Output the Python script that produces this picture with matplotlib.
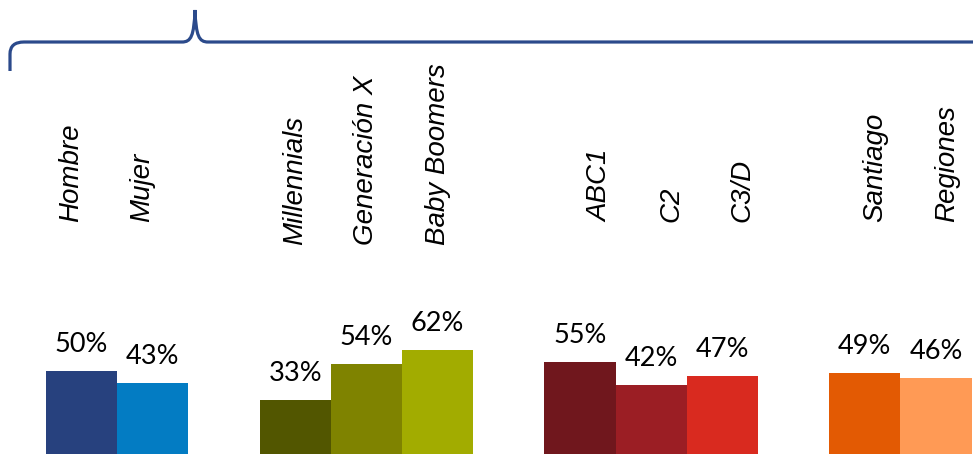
import matplotlib.pyplot as plt
from matplotlib.path import Path
from matplotlib.patches import PathPatch
from matplotlib.transforms import blended_transform_factory

# data
categories = ["Hombre", "Mujer", "Millennials", "Generación X", "Baby Boomers",
              "ABC1", "C2", "C3/D", "Santiago", "Regiones"]
values = [50, 43, 33, 54, 62, 55, 42, 47, 49, 46]
groups = [0, 0, 1, 1, 1, 2, 2, 2, 3, 3]
colors = ["#27417e", "#037cc3", "#525600", "#7f8300", "#a2ac00",
          "#70171d", "#9b1e24", "#d92a1f", "#e35a03", "#ff9a55"]

# layout per group: label x shift (bar units) and label bottom (axes fraction)
label_dx = [-0.15, 0.0, 0.28, 0.15]
label_bottom = [0.51, 0.46, 0.51, 0.51]

W, H = 973, 454
fig = plt.figure(figsize=(W / 100, H / 100), dpi=100)
ax = fig.add_axes([0, 0, 1, 1])

# one empty slot between groups
xpos = [i + g for i, g in enumerate(groups)]
ax.bar(xpos, values, width=1.0, color=colors)
ax.set_xlim(-1.146, 12.52)
ax.set_ylim(1.74, 265.1)
ax.axis("off")

for x, v in zip(xpos, values):
    ax.annotate(f"{v}%", (x, v), xytext=(0, 13.7), textcoords="offset points",
                ha="center", va="baseline", fontsize=19.5, family="Lato", color="#000000")

tr = blended_transform_factory(ax.transData, ax.transAxes)
for x, g, name in zip(xpos, groups, categories):
    ax.text(x + label_dx[g], label_bottom[g], name, transform=tr, rotation=90,
            ha="center", va="bottom", fontsize=20, style="italic",
            family="Liberation Sans", color="#000000")

# brace across the top (pixel coords, y from top)
pts = [(10, 71), (10, 54), (10, 42), (24, 42), (182, 42),
       (191, 42), (194, 36), (195, 10),
       (196, 36), (199, 42), (208, 42), (980, 42)]
codes = [Path.MOVETO, Path.LINETO, Path.CURVE3, Path.CURVE3, Path.LINETO,
         Path.CURVE4, Path.CURVE4, Path.CURVE4,
         Path.CURVE4, Path.CURVE4, Path.CURVE4, Path.LINETO]
brace = Path([(px / W, 1 - py / H) for px, py in pts], codes)
fig.patches.append(PathPatch(brace, transform=fig.transFigure, fill=False,
                             edgecolor="#2b4a8b", linewidth=2.3, capstyle="butt"))

plt.savefig("out.png", dpi=100)
